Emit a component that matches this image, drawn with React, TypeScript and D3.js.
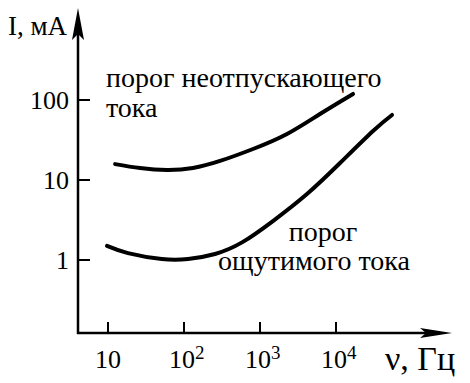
import React, { useEffect, useRef } from "react";
import * as d3 from "d3";

// threshold of perceptible current
const perceptFreq = [9.7, 18.3, 51, 113, 256, 580, 1480, 4150, 11300, 30700, 54600];
const perceptCurrent = [1.5, 1.22, 1.03, 1.03, 1.19, 1.66, 3.07, 6.68, 16.3, 41, 65];

// threshold of non-releasing current
const letGoFreq = [12.4, 26.4, 59.7, 131, 298, 809, 2266, 6150, 16750];
const letGoCurrent = [15.8, 14.1, 13.3, 14.1, 17.3, 24.4, 37.6, 66.8, 119];

const xTicks = [10, 100, 1000, 10000];
const xTickBase = ["10", "10", "10", "10"];
const xTickExp = ["", "2", "3", "4"];
const yTicks = [1, 10, 100];
const yTickLabels = ["1", "10", "100"];

const FONT = "Liberation Serif";

export default function App() {
  const svgRef = useRef<SVGSVGElement>(null);

  useEffect(() => {
    if (!svgRef.current) return;
    const svg = d3.select(svgRef.current);
    svg.selectAll("*").remove();

    const x = d3.scaleLog().domain([10, 10000]).range([108, 336]);
    const y = d3.scaleLog().domain([1, 100]).range([260, 100]);
    const x0 = 78;
    const y0 = 333;

    // axes
    svg.append("line")
      .attr("x1", x0).attr("x2", x0)
      .attr("y1", y0 + 1).attr("y2", 30)
      .attr("stroke", "#000").attr("stroke-width", 2.5);
    svg.append("path")
      .attr("d", `M${x0},8 L${x0 + 6},40 L${x0},34 L${x0 - 6},40 Z`)
      .attr("fill", "#000");

    svg.append("line")
      .attr("x1", x0 - 1).attr("x2", 430)
      .attr("y1", y0).attr("y2", y0)
      .attr("stroke", "#000").attr("stroke-width", 2.5);
    svg.append("path")
      .attr("d", `M452,${y0} L420,${y0 - 5} L426,${y0} L420,${y0 + 5} Z`)
      .attr("fill", "#000");

    // y ticks
    yTicks.forEach((t, i) => {
      svg.append("line")
        .attr("x1", x0).attr("x2", x0 + 12)
        .attr("y1", y(t)).attr("y2", y(t))
        .attr("stroke", "#000").attr("stroke-width", 2);
      svg.append("text")
        .attr("x", 69).attr("y", y(t) + 9)
        .attr("text-anchor", "end")
        .style("font-family", FONT).style("font-size", "26px")
        .text(yTickLabels[i]);
    });

    // x ticks
    xTicks.forEach((t, i) => {
      svg.append("line")
        .attr("x1", x(t)).attr("x2", x(t))
        .attr("y1", y0).attr("y2", y0 - 11)
        .attr("stroke", "#000").attr("stroke-width", 2);
      const txt = svg.append("text")
        .attr("x", x(t)).attr("y", 368)
        .style("font-family", FONT).style("font-size", "26px");
      if (xTickExp[i]) {
        txt.attr("text-anchor", "start").attr("x", x(t) - 15);
        txt.append("tspan").text(xTickBase[i]);
        txt.append("tspan")
          .style("font-size", "19px").attr("dy", -9)
          .text(xTickExp[i]);
      } else {
        txt.attr("text-anchor", "middle").text(xTickBase[i]);
      }
    });

    // axis titles
    svg.append("text")
      .attr("x", 8).attr("y", 35)
      .style("font-family", FONT).style("font-size", "27px")
      .text("I, мА");
    svg.append("text")
      .attr("x", 385).attr("y", 370)
      .style("font-family", FONT).style("font-size", "34px")
      .text("ν, Гц");

    const line = d3.line<[number, number]>()
      .x((d) => x(d[0]))
      .y((d) => y(d[1]))
      .curve(d3.curveNatural);

    const series = [
      { f: letGoFreq, c: letGoCurrent },
      { f: perceptFreq, c: perceptCurrent },
    ];
    series.forEach((s) => {
      const pts = s.f.map((f, i) => [f, s.c[i]] as [number, number]);
      svg.append("path")
        .datum(pts)
        .attr("fill", "none")
        .attr("stroke", "#000")
        .attr("stroke-width", 4)
        .attr("stroke-linecap", "round")
        .attr("d", line);
    });

    // curve labels
    const lab = (tx: number, ty: number, s: string, anchor = "start") =>
      svg.append("text")
        .attr("x", tx).attr("y", ty)
        .attr("text-anchor", anchor)
        .style("font-family", FONT).style("font-size", "28px")
        .text(s);
    lab(106, 87, "порог неотпускающего");
    lab(106, 117, "тока");
    lab(323, 241, "порог", "middle");
    lab(314, 270, "ощутимого тока", "middle");
  }, []);

  return (
    <svg
      ref={svgRef}
      width={470}
      height={383}
      style={{ position: "absolute", left: 0, top: 0, background: "#fff" }}
    />
  );
}
